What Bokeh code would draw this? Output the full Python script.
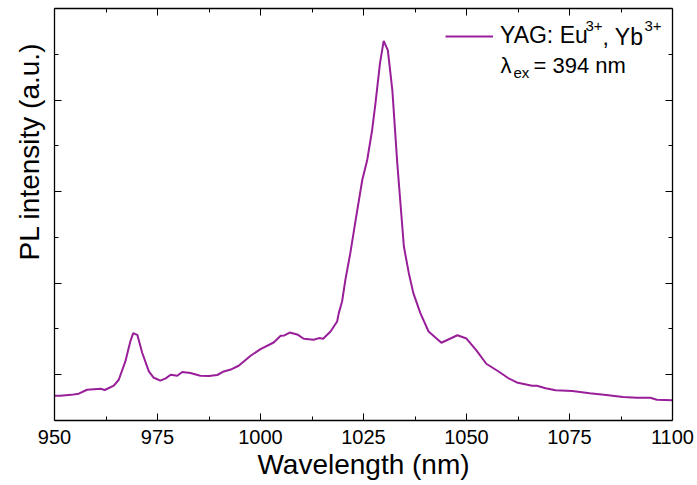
from bokeh.embed import file_html
from bokeh.models import (CustomJSTickFormatter, FixedTicker, Label, Legend,
                          LegendItem, LinearAxis, Range1d, Title)
from bokeh.plotting import figure
from bokeh.resources import INLINE

# Emission spectrum of YAG: Eu3+, Yb3+ under 394 nm excitation
wavelength = [
    950.0, 951.5, 954.0, 955.9, 957.9, 961.2, 962.2, 964.4, 965.6, 967.2,
    968.4, 969.1, 970.1, 971.3, 972.9, 974.0, 975.7, 977.0, 978.2, 979.8,
    981.0, 983.0, 985.4, 987.5, 989.5, 991.1, 993.0, 994.7, 997.6, 1000.0,
    1003.2, 1004.9, 1005.8, 1007.1, 1009.1, 1010.5, 1012.9, 1014.2, 1015.2,
    1017.0, 1018.6, 1019.0, 1019.8, 1020.6, 1021.8, 1023.1, 1024.7, 1025.9,
    1027.1, 1027.9, 1029.0, 1029.9, 1030.9, 1032.0, 1033.2, 1034.8, 1036.0,
    1037.1, 1038.8, 1040.8, 1043.9, 1047.8, 1050.0, 1052.4, 1054.8, 1057.7,
    1060.1, 1062.2, 1065.9, 1067.1, 1069.2, 1071.6, 1075.7, 1079.9, 1083.9,
    1088.0, 1091.3, 1094.6, 1096.2, 1100.0,
]
intensity = [
    0.770, 0.771, 0.780, 0.793, 0.836, 0.847, 0.833, 0.880, 0.945, 1.145,
    1.363, 1.455, 1.436, 1.237, 1.036, 0.970, 0.935, 0.960, 1.000, 0.989,
    1.029, 1.019, 0.989, 0.985, 0.997, 1.036, 1.060, 1.098, 1.207, 1.280,
    1.352, 1.425, 1.429, 1.461, 1.436, 1.393, 1.382, 1.400, 1.393,
    1.472, 1.581, 1.673, 1.800, 2.036, 2.328, 2.691, 3.127, 3.345,
    3.673, 3.964, 4.400, 4.647, 4.545, 4.109, 3.309, 2.400, 2.109,
    1.891, 1.673, 1.472, 1.349, 1.431, 1.395, 1.265, 1.120, 1.038,
    0.964, 0.916, 0.879, 0.879, 0.853, 0.831, 0.823, 0.798, 0.779,
    0.757, 0.749, 0.749, 0.727, 0.720,
]

x_major = [950, 975, 1000, 1025, 1050, 1075, 1100]
x_minor = [962.5, 987.5, 1012.5, 1037.5, 1062.5, 1087.5]
y_major = [1, 2, 3, 4]
y_minor = [1.5, 2.5, 3.5, 4.5]

FONT = "Liberation Sans"
COLOR = "#991e99"

p = figure(width=697, height=485, output_backend="svg", toolbar_location=None,
           x_range=Range1d(950, 1100), y_range=Range1d(0.5, 5.0),
           x_axis_location=None, y_axis_location=None,
           min_border_left=54, min_border_right=25,
           min_border_top=8, min_border_bottom=65)
p.xgrid.visible = False
p.ygrid.visible = False
p.outline_line_color = None
p.background_fill_color = "white"
p.border_fill_color = "white"

blank = CustomJSTickFormatter(code="return ''")


def style_axis(axis, show_labels):
    axis.axis_line_color = "black"
    axis.axis_line_width = 1.3
    axis.major_tick_line_color = "black"
    axis.minor_tick_line_color = "black"
    axis.major_tick_in = 7
    axis.major_tick_out = 0
    axis.minor_tick_in = 4
    axis.minor_tick_out = 0
    axis.major_tick_line_width = 1
    axis.minor_tick_line_width = 1
    if show_labels:
        axis.major_label_text_font = FONT
        axis.major_label_text_font_size = "20px"
        axis.major_label_text_color = "black"
        axis.major_label_standoff = 9
    else:
        # frame edges carry ticks only
        axis.formatter = blank
        axis.major_label_text_font_size = "0px"
        axis.major_label_standoff = 0


xt = FixedTicker(ticks=x_major, minor_ticks=x_minor)
yt = FixedTicker(ticks=y_major, minor_ticks=y_minor)

bottom = LinearAxis(ticker=xt)
style_axis(bottom, True)
bottom.axis_label = "Wavelength (nm)"
bottom.axis_label_text_font = FONT
bottom.axis_label_text_font_size = "28px"
bottom.axis_label_text_font_style = "normal"
bottom.axis_label_text_color = "black"
bottom.axis_label_standoff = 2
p.add_layout(bottom, "below")

top = LinearAxis(ticker=xt)
style_axis(top, False)
p.add_layout(top, "above")

left = LinearAxis(ticker=yt)
style_axis(left, False)
p.add_layout(left, "left")

right = LinearAxis(ticker=yt)
style_axis(right, False)
p.add_layout(right, "right")

# y-axis title, set toward the top of the frame
p.add_layout(Title(text="PL intensity (a.u.)", align="right", offset=34,
                   standoff=20, text_font=FONT, text_font_size="28px",
                   text_font_style="normal", text_color="black"), "left")

line = p.line(wavelength, intensity, line_color=COLOR, line_width=2)

legend = Legend(items=[LegendItem(label="YAG: Eu", renderers=[line])],
                location=(391, 371), glyph_width=48, glyph_height=20,
                label_standoff=7, padding=0, margin=0, spacing=0,
                border_line_alpha=0, background_fill_alpha=0,
                label_text_font=FONT, label_text_font_size="23px",
                label_text_color="black")
p.add_layout(legend)


def note(x, y, text, size):
    p.add_layout(Label(x=x, y=y, x_units="screen", y_units="screen",
                       text=text, text_align="left",
                       text_baseline="alphabetic", text_font=FONT,
                       text_font_size=size, text_color="black"))


# rest of the legend entry: ion charges and second ion
note(531, 395, "3+", "15px")
note(548, 384, ", Yb", "23px")
note(590, 395, "3+", "15px")

# excitation wavelength
note(446, 355, "\u03bb", "22px")
note(459, 348, "ex", "15px")
note(479, 355, "= 394 nm", "22px")

open("out.html", "w").write(file_html(p, INLINE))
